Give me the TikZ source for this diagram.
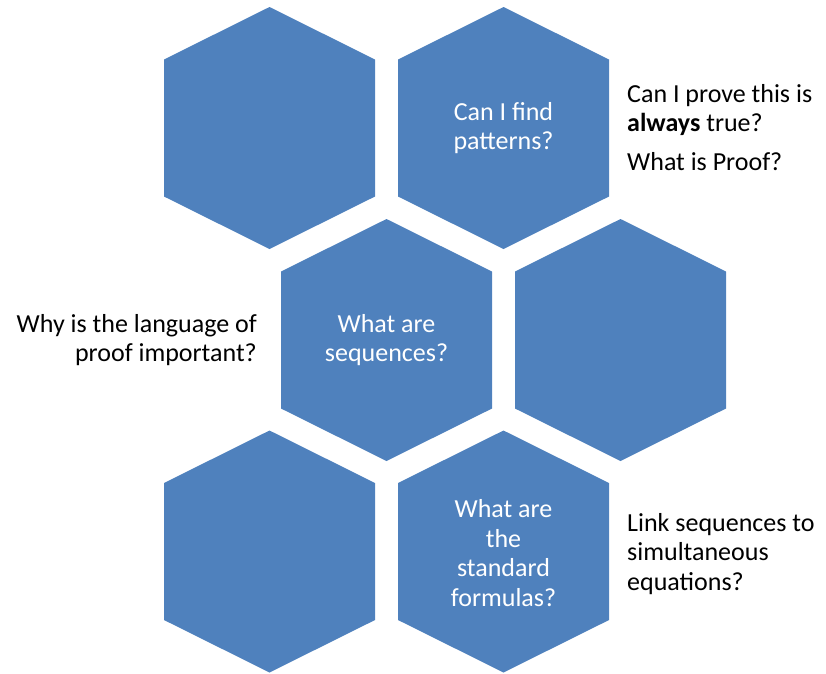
\documentclass[tikz,border=0pt]{standalone}
\usepackage{fontspec}
\setmainfont{Carlito}
\usetikzlibrary{positioning}
\definecolor{hexblue}{HTML}{4F81BD}

\begin{document}
\begin{tikzpicture}[x=1pt, y=-1pt]
  \tikzset{
      hexcell/.style={fill=hexblue, draw=none},
      hexlabel/.style={text=white, align=center, inner sep=0pt, font=\fontsize{26}{29.5}\selectfont},
      sidenote/.style={text=black, inner sep=0pt, font=\fontsize{26}{29.5}\selectfont}
  }
  \useasboundingbox (0,0) rectangle (826,673);
  % the six cells of the honeycomb
  \foreach \cx/\cy in {269.5/128, 503.5/128, 386.5/340, 620.5/340, 269.5/551.5, 503.5/551.5}
    \fill[hexcell] (\cx,\cy-121) -- ++(105.5,52.5) -- ++(0,137) -- ++(-105.5,52.5)
                   -- ++(-105.5,-52.5) -- ++(0,-137) -- cycle;
  \node[hexlabel] (patterns) at (503.5,128) {Can I find\\patterns?};
  \node[hexlabel] (sequences) at (386.5,340) {What are\\sequences?};
  \node[hexlabel] (formulas) at (503.5,553) {What are\\the\\standard\\formulas?};
  % notes beside the cells
  \node[sidenote, align=left, anchor=north west] (always) at (627,84) {Can I prove this is\\\textbf{always} true?\\[9pt]What is Proof?};
  \node[sidenote, align=right, anchor=north east] (language) at (257,314) {Why is the language of\\proof important?};
  \node[sidenote, align=left, anchor=north west] (simultaneous) at (627,513) {Link sequences to\\simultaneous\\equations?};
\end{tikzpicture}
\end{document}
